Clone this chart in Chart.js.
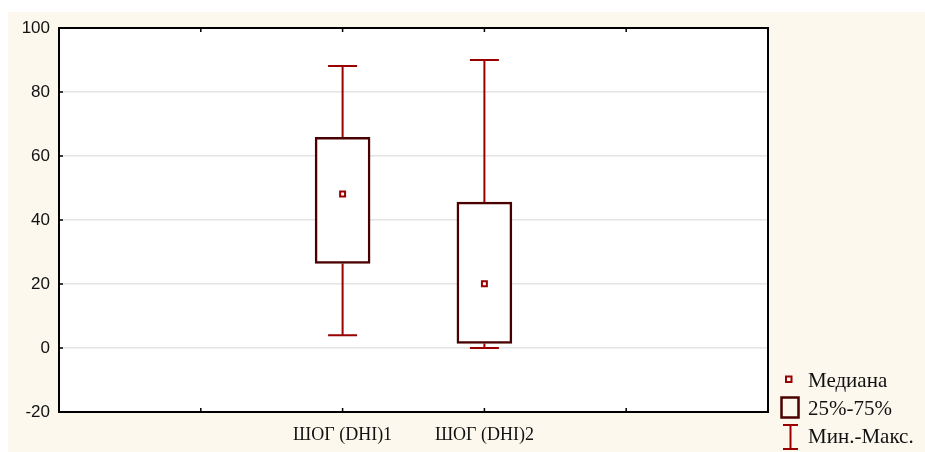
<!DOCTYPE html>
<html>
<head>
<meta charset="utf-8">
<script src="https://cdn.jsdelivr.net/npm/chart.js@4"></script>
<style>
    body { margin: 0; background: #fff; }
    .frame { position: absolute; left: 8px; top: 12px; right: 0; bottom: 0; background: #fdf8ee; }
    #chart { position: absolute; left: 0; top: 0; }
    .legend { position: absolute; left: 776px; top: 366px; font-family: 'Liberation Serif', serif; font-size: 21px; color: #111; }
    .legend div { position: relative; height: 28px; line-height: 28px; padding-left: 32px; }
    .legend svg { position: absolute; left: 0; top: 0; }
</style>
</head>
<body>
<div class="frame"></div>
<canvas id="chart" width="925" height="452"></canvas>
<div class="legend">
    <div><svg width="28" height="28"><rect x="10" y="10.5" width="5.5" height="5.5" fill="#fff" stroke="#990000" stroke-width="2"/></svg>Медиана</div>
    <div><svg width="28" height="28"><rect x="5.5" y="3.5" width="17" height="20" fill="none" stroke="#4a0000" stroke-width="2.5"/></svg>25%-75%</div>
    <div><svg width="28" height="28"><path d="M7 3H22M14.5 3V27M7 27H22" fill="none" stroke="#990000" stroke-width="2"/></svg>Мин.-Макс.</div>
</div>
<script>
const categories = ['', '', 'ШОГ (DHI)1', 'ШОГ (DHI)2', '', ''];
const medians = [null, null, 48.1, 20.1, null, null];
const q1 = [null, null, 26.4, 1.4, null, null];
const q3 = [null, null, 65.8, 45.6, null, null];
const mins = [null, null, 4, 0, null, null];
const maxs = [null, null, 88.1, 90, null, null];
const yTicks = [-20, 0, 20, 40, 60, 80, 100];

const boxes = q1.map((v, i) => v === null ? null : [v, q3[i]]);

// whiskers, plot frame and inner tick marks
const extras = {
    id: 'extras',
    beforeDraw(chart) {
        const a = chart.chartArea, c = chart.ctx;
        c.save();
        c.fillStyle = '#fff';
        c.fillRect(a.left, a.top, a.right - a.left, a.bottom - a.top);
        c.restore();
    },
    beforeDatasetsDraw(chart) {
        const c = chart.ctx, x = chart.scales.x, y = chart.scales.y;
        c.save();
        c.strokeStyle = '#990000';
        c.lineWidth = 2;
        categories.forEach((cat, i) => {
            if (mins[i] === null) return;
            const px = x.getPixelForValue(i);
            [[q1[i], mins[i]], [q3[i], maxs[i]]].forEach(([from, to]) => {
                c.beginPath();
                c.moveTo(px, y.getPixelForValue(from));
                c.lineTo(px, y.getPixelForValue(to));
                c.moveTo(px - 14.5, y.getPixelForValue(to));
                c.lineTo(px + 14.5, y.getPixelForValue(to));
                c.stroke();
            });
        });
        c.restore();
    },
    afterDraw(chart) {
        const a = chart.chartArea, c = chart.ctx, x = chart.scales.x, y = chart.scales.y;
        c.save();
        c.strokeStyle = '#000';
        c.lineWidth = 2;
        c.strokeRect(a.left, a.top, a.right - a.left, a.bottom - a.top);
        c.lineWidth = 1.5;
        c.beginPath();
        for (let i = 1; i < categories.length - 1; i++) {
            const px = x.getPixelForValue(i);
            c.moveTo(px, a.top); c.lineTo(px, a.top + 4);
            c.moveTo(px, a.bottom); c.lineTo(px, a.bottom - 4);
        }
        yTicks.forEach(v => {
            const py = y.getPixelForValue(v);
            c.moveTo(a.left, py); c.lineTo(a.left + 4, py);
        });
        c.stroke();
        c.restore();
    }
};

new Chart(document.getElementById('chart'), {
    data: {
        labels: categories,
        datasets: [{
            type: 'bar',
            data: boxes,
            backgroundColor: '#fff',
            borderColor: '#4a0000',
            borderWidth: 2.5,
            borderSkipped: false,
            barThickness: 55,
            order: 2
        }, {
            type: 'line',
            data: medians,
            showLine: false,
            pointStyle: 'rect',
            pointRadius: 3.5,
            pointBorderWidth: 2,
            pointBorderColor: '#990000',
            pointBackgroundColor: '#fff',
            order: 1
        }]
    },
    options: {
        responsive: false,
        animation: false,
        devicePixelRatio: 1,
        layout: { padding: { top: 28, right: 157, left: 0, bottom: 0 } },
        plugins: { legend: { display: false }, tooltip: { enabled: false } },
        scales: {
            x: {
                offset: false,
                grid: { display: false, drawTicks: false },
                border: { display: false },
                afterFit: s => { s.height = 40; },
                ticks: {
                    autoSkip: false,
                    maxRotation: 0,
                    padding: 12,
                    color: '#111',
                    font: { family: 'Liberation Serif', size: 18 }
                }
            },
            y: {
                min: -20,
                max: 100,
                afterFit: s => { s.width = 59; },
                afterBuildTicks: s => { s.ticks = yTicks.map(v => ({ value: v })); },
                grid: { color: '#e4e4e4', lineWidth: 1.5, drawTicks: false },
                border: { display: false },
                ticks: {
                    padding: 9,
                    color: '#111',
                    font: { family: 'Liberation Sans', size: 17 }
                }
            }
        }
    },
    plugins: [extras]
});
</script>
</body>
</html>
